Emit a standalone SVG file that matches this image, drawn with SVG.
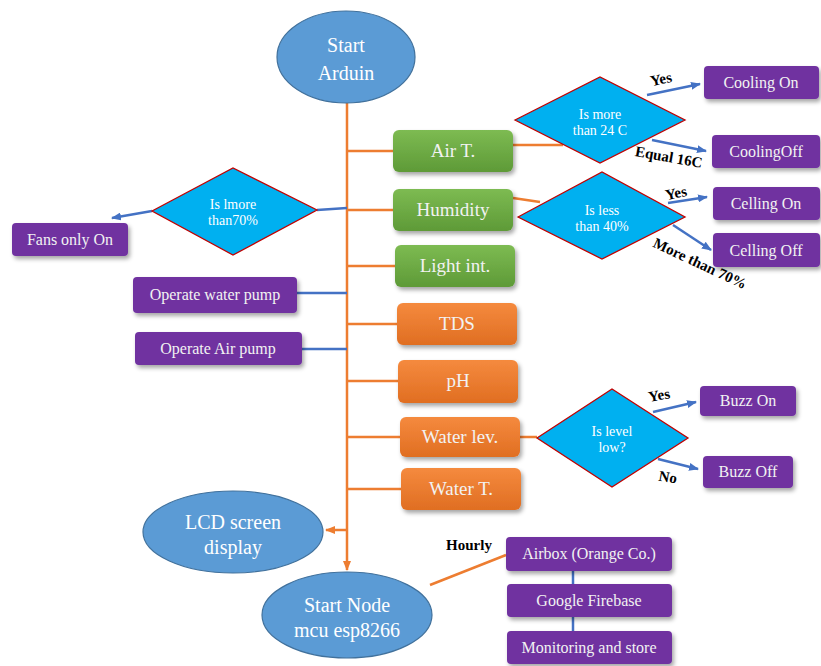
<svg xmlns="http://www.w3.org/2000/svg" width="821" height="666" viewBox="0 0 821 666">
<defs>
<filter id="sh" x="-10%" y="-10%" width="130%" height="140%"><feDropShadow dx="2" dy="3" stdDeviation="2" flood-color="#000" flood-opacity="0.35"/></filter>
<marker id="ab" markerWidth="10" markerHeight="8" refX="9" refY="4" orient="auto" markerUnits="userSpaceOnUse"><path d="M0,0 L10,4 L0,8 Z" fill="#4472C4"/></marker>
<marker id="ao" markerWidth="10" markerHeight="8" refX="9" refY="4" orient="auto" markerUnits="userSpaceOnUse"><path d="M0,0 L10,4 L0,8 Z" fill="#ED7D31"/></marker>
<linearGradient id="gg" x1="0" y1="0" x2="0" y2="1"><stop offset="0" stop-color="#7DBB52"/><stop offset="1" stop-color="#5E9A37"/></linearGradient>
<linearGradient id="go" x1="0" y1="0" x2="0" y2="1"><stop offset="0" stop-color="#F58A3E"/><stop offset="1" stop-color="#E06E22"/></linearGradient>
</defs>
<style>
text{font-family:'Liberation Serif','DejaVu Serif',serif;text-anchor:middle}
.el{fill:#5B9BD5;stroke:#41719C;stroke-width:1.2}
.et{fill:#fff;font-size:20px}
.gr{fill:url(#gg);filter:url(#sh)}
.or{fill:url(#go);filter:url(#sh)}
.pu{fill:#7030A0;filter:url(#sh)}
.bt{fill:#F2F2F2;font-size:19px}
.pt{fill:#F2F2F2;font-size:16px}
.dm{fill:#00B0F0;stroke:#C00000;stroke-width:1.3}
.dt{fill:#fff;font-size:14px}
.lb{fill:#000;font-size:15px;font-weight:bold}
.co{stroke:#ED7D31;stroke-width:2.5;fill:none}
.cb{stroke:#4472C4;stroke-width:2.5;fill:none}
</style>
<g id="connectors">
<line class="co" x1="347" y1="103" x2="347" y2="570" marker-end="url(#ao)"/>
<line class="co" x1="347" y1="530" x2="326" y2="530" marker-end="url(#ao)"/>
<line class="co" x1="347" y1="151" x2="393" y2="151"/>
<line class="co" x1="347" y1="210" x2="393" y2="210"/>
<line class="co" x1="347" y1="266" x2="395" y2="266"/>
<line class="co" x1="347" y1="324" x2="397" y2="324"/>
<line class="co" x1="347" y1="381" x2="398" y2="381"/>
<line class="co" x1="347" y1="437" x2="400" y2="437"/>
<line class="co" x1="347" y1="489" x2="401" y2="489"/>
<line class="co" x1="513" y1="145" x2="563" y2="145"/>
<line class="co" x1="513" y1="198" x2="540" y2="202"/>
<line class="co" x1="520" y1="437" x2="537" y2="437"/>
<line class="co" x1="430" y1="585" x2="506" y2="555"/>
<line class="cb" x1="317" y1="210" x2="347" y2="208"/>
<line class="cb" x1="152" y1="211" x2="112" y2="218" marker-end="url(#ab)"/>
<line class="cb" x1="297" y1="293" x2="347" y2="293"/>
<line class="cb" x1="302" y1="349" x2="347" y2="349"/>
<line class="cb" x1="647" y1="95" x2="700" y2="84" marker-end="url(#ab)"/>
<line class="cb" x1="652" y1="140" x2="706" y2="151" marker-end="url(#ab)"/>
<line class="cb" x1="668" y1="203" x2="707" y2="197" marker-end="url(#ab)"/>
<line class="cb" x1="673" y1="225" x2="711" y2="250" marker-end="url(#ab)"/>
<line class="cb" x1="653" y1="412" x2="696" y2="402" marker-end="url(#ab)"/>
<line class="cb" x1="658" y1="459" x2="698" y2="469" marker-end="url(#ab)"/>
<line class="cb" x1="573" y1="571" x2="573" y2="584"/>
<line class="cb" x1="573" y1="617" x2="573" y2="631"/>
</g>
<g id="start-arduin"><ellipse class="el" cx="346" cy="57" rx="69" ry="46"/><text class="et" x="346" y="52">Start</text><text class="et" x="346" y="80">Arduin</text></g>
<g id="lcd"><ellipse class="el" cx="233" cy="532" rx="90" ry="41"/><text class="et" x="233" y="529">LCD screen</text><text class="et" x="233" y="554">display</text></g>
<g id="start-node"><ellipse class="el" cx="347" cy="615" rx="85" ry="43"/><text class="et" x="347" y="612">Start Node</text><text class="et" x="347" y="637">mcu esp8266</text></g>
<g id="air-t"><rect class="gr" x="393" y="130" width="120" height="42" rx="6"/><text class="bt" x="453" y="157">Air T.</text></g>
<g id="humidity"><rect class="gr" x="393" y="189" width="120" height="42" rx="6"/><text class="bt" x="453" y="216">Humidity</text></g>
<g id="light"><rect class="gr" x="395" y="245" width="120" height="42" rx="6"/><text class="bt" x="455" y="272">Light int.</text></g>
<g id="tds"><rect class="or" x="397" y="303" width="120" height="42" rx="6"/><text class="bt" x="457" y="330">TDS</text></g>
<g id="ph"><rect class="or" x="398" y="360" width="120" height="43" rx="6"/><text class="bt" x="458" y="387">pH</text></g>
<g id="water-lev"><rect class="or" x="400" y="417" width="120" height="40" rx="6"/><text class="bt" x="460" y="443">Water lev.</text></g>
<g id="water-t"><rect class="or" x="401" y="468" width="120" height="42" rx="6"/><text class="bt" x="461" y="495">Water T.</text></g>
<g id="d-air"><polygon class="dm" points="515,120 600,77 685,120 600,163"/><text class="dt" x="600" y="119">Is more</text><text class="dt" x="600" y="135">than 24 C</text></g>
<g id="d-hum"><polygon class="dm" points="518,217 602,172 685,217 602,259"/><text class="dt" x="602" y="215">Is less</text><text class="dt" x="602" y="231">than 40%</text></g>
<g id="d-hum2"><polygon class="dm" points="152,211 233,168 317,210 233,255"/><text class="dt" x="233" y="209">Is lmore</text><text class="dt" x="233" y="225">than70%</text></g>
<g id="d-level"><polygon class="dm" points="537,438 612,389 688,438 612,487"/><text class="dt" x="612" y="436">Is level</text><text class="dt" x="612" y="452">low?</text></g>
<g id="cooling-on"><rect class="pu" x="704" y="66" width="115" height="33" rx="4"/><text class="pt" x="761" y="88">Cooling On</text></g>
<g id="cooling-off"><rect class="pu" x="712" y="135" width="108" height="33" rx="4"/><text class="pt" x="766" y="157">CoolingOff</text></g>
<g id="celling-on"><rect class="pu" x="713" y="187" width="107" height="33" rx="4"/><text class="pt" x="766" y="209">Celling On</text></g>
<g id="celling-off"><rect class="pu" x="713" y="233" width="107" height="34" rx="4"/><text class="pt" x="766" y="256">Celling Off</text></g>
<g id="fans"><rect class="pu" x="12" y="223" width="116" height="33" rx="4"/><text class="pt" x="70" y="245">Fans only On</text></g>
<g id="water-pump"><rect class="pu" x="133" y="277" width="164" height="36" rx="4"/><text class="pt" x="215" y="300">Operate water pump</text></g>
<g id="air-pump"><rect class="pu" x="135" y="332" width="167" height="33" rx="4"/><text class="pt" x="218" y="354">Operate Air pump</text></g>
<g id="buzz-on"><rect class="pu" x="700" y="386" width="96" height="30" rx="4"/><text class="pt" x="748" y="406">Buzz On</text></g>
<g id="buzz-off"><rect class="pu" x="703" y="456" width="90" height="32" rx="4"/><text class="pt" x="748" y="477">Buzz Off</text></g>
<g id="airbox"><rect class="pu" x="506" y="537" width="166" height="34" rx="4"/><text class="pt" x="589" y="559">Airbox (Orange Co.)</text></g>
<g id="firebase"><rect class="pu" x="507" y="584" width="165" height="33" rx="4"/><text class="pt" x="589" y="606">Google Firebase</text></g>
<g id="monitoring"><rect class="pu" x="507" y="631" width="165" height="33" rx="4"/><text class="pt" x="589" y="653">Monitoring and store</text></g>
<g id="labels">
<text class="lb" x="662" y="84" transform="rotate(-12 662 84)">Yes</text>
<text class="lb" x="668" y="162" transform="rotate(10 668 162)">Equal 16C</text>
<text class="lb" x="677" y="198" transform="rotate(-12 677 198)">Yes</text>
<text class="lb" x="698" y="268" transform="rotate(25 698 268)">More than 70%</text>
<text class="lb" x="660" y="400" transform="rotate(-10 660 400)">Yes</text>
<text class="lb" x="667" y="482" transform="rotate(10 667 482)">No</text>
<text class="lb" x="469" y="550">Hourly</text>
</g>
</svg>
